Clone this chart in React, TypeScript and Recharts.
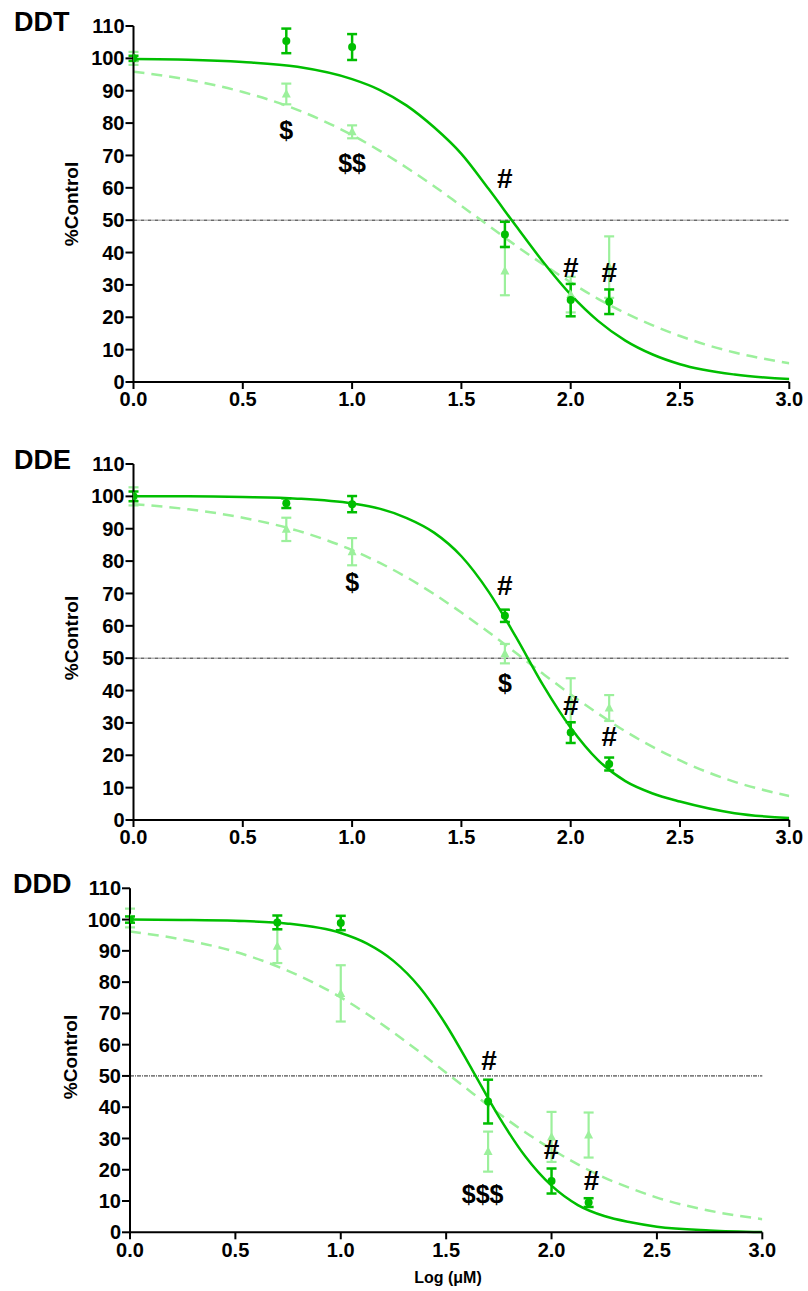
import React from "react";
import { ComposedChart, Line, Scatter, ErrorBar, XAxis, YAxis, ReferenceLine } from "recharts";

// x = log(µM) dose, shared by the measured points
const doses = [0, 0.699, 1, 1.699, 2, 2.176];
// x grid for the fitted curves
const curveX = [0, 0.25, 0.5, 0.75, 1, 1.125, 1.25, 1.375, 1.5, 1.625, 1.75, 1.875, 2, 2.125, 2.25, 2.375, 2.5, 2.75, 3];

const xTicks = [0, 0.5, 1, 1.5, 2, 2.5, 3];
const yTicks = [0, 10, 20, 30, 40, 50, 60, 70, 80, 90, 100, 110];

// DDT
const ddtDarkMean = [100, 105.4, 103.5, 45.6, 25.3, 24.8];
const ddtDarkErr = [0.8, 3.8, 4, 3.9, 5, 3.8];
const ddtLightMean = [100, 89, 77.3, 34.3, 27, 35.5];
const ddtLightErr = [2, 3.2, 2, 7.5, 5.5, 9.5];
const ddtDarkFit = [99.8, 99.6, 98.9, 97.4, 93.6, 90.3, 85.4, 78.7, 70.5, 59.6, 48.2, 37, 27, 18.9, 12.8, 8.5, 5.5, 2.3, 0.9];
const ddtLightFit = [95.9, 93.4, 89.6, 84.1, 76.3, 71.5, 66.2, 60.5, 54.4, 48.3, 42.1, 36.3, 30.8, 25.7, 21.3, 17.5, 14.2, 9.1, 5.8];

// DDE
const ddeDarkMean = [100, 97.9, 97.6, 63.1, 27, 17.3];
const ddeDarkErr = [1.5, 1.5, 2.5, 1.9, 3.2, 2];
const ddeLightMean = [100, 89.8, 82.9, 51.4, 37, 34.6];
const ddeLightErr = [2.8, 3.6, 4.2, 3, 6.8, 4];
const ddeDarkFit = [100, 100, 99.8, 99.3, 97.8, 96.2, 93.3, 88.8, 81.5, 70.5, 56.5, 41.5, 28.5, 18.5, 12, 8.2, 5.7, 2.1, 0.6];
const ddeLightFit = [97.6, 96, 93.4, 89.4, 83.4, 79.5, 75, 69.8, 64.1, 58, 51.6, 45.1, 38.8, 32.9, 27.4, 22.6, 18.4, 11.8, 7.4];

// DDD
const dddDarkMean = [100, 99.1, 98.9, 41.8, 16.4, 9.5];
const dddDarkErr = [1, 2.2, 2.3, 7, 4, 1.4];
const dddLightMean = [100.5, 91.5, 76.4, 25.8, 30.5, 31.1];
const dddLightErr = [3, 5.4, 9, 6.4, 8, 7.2];
const dddDarkFit = [100, 99.9, 99.6, 98.7, 95.7, 92.3, 86.8, 78.3, 66.3, 51.8, 37, 24.3, 14.9, 8.7, 5.2, 3.2, 1.8, 0.6, 0.1];
const dddLightFit = [96.2, 93.6, 89.7, 83.6, 75.1, 69.8, 63.9, 57.6, 51, 44.5, 38, 32, 26.6, 21.7, 17.5, 14.1, 11.1, 6.9, 4.2];

// significance marks: [x, y, text]
const ddtMarks: [number, number, string][] = [
  [0.699, 77.9, "$"], [1, 67.6, "$$"], [1.699, 63, "#"], [2, 35.6, "#"], [2.176, 34.1, "#"],
];
const ddeMarks: [number, number, string][] = [
  [1, 73.6, "$"], [1.699, 72.6, "#"], [1.699, 42.4, "$"], [2, 35.5, "#"], [2.176, 25.9, "#"],
];
const dddMarks: [number, number, string][] = [
  [1.704, 55.1, "#"], [1.673, 12.2, "$$$"], [2, 26.5, "#"], [2.19, 16.7, "#"],
];

const DARK = "#00BE00";
const LIGHT = "#9CF09C";
const FONT = "Arial, 'Liberation Sans', sans-serif";

const pts = (m: number[], e: number[]) => doses.map((x, i) => ({ x, y: m[i], err: e[i] }));
const fit = (v: number[]) => curveX.map((x, i) => ({ x, y: v[i] }));

const Dot = (p: any) => <circle cx={p.cx} cy={p.cy} r={4} fill={DARK} />;
const Tri = (p: any) => (
  <path d={`M${p.cx},${p.cy - 5} L${p.cx + 4.5},${p.cy + 3.5} L${p.cx - 4.5},${p.cy + 3.5} Z`} fill={LIGHT} />
);
const MarkText = (p: any) => {
  const hash = p.payload.t === "#";
  return (
    <text x={p.cx} y={p.cy} dy={hash ? 10 : 9} textAnchor="middle" fontFamily={FONT} fontWeight="bold"
      fontSize={hash ? 28 : 25} fill="#000">
      {p.payload.t}
    </text>
  );
};

interface PanelProps {
  top: number;
  height: number;
  margin: { top: number; right: number; bottom: number; left: number };
  darkM: number[]; darkE: number[]; lightM: number[]; lightE: number[];
  darkFit: number[]; lightFit: number[];
  marks: [number, number, string][];
}

function Panel(p: PanelProps) {
  const tick = { fontFamily: FONT, fontWeight: "bold", fontSize: 20, fill: "#000" };
  return (
    <div style={{ position: "absolute", left: 0, top: p.top }}>
      <ComposedChart width={808} height={p.height} margin={p.margin}>
        <XAxis type="number" dataKey="x" domain={[0, 3]} ticks={xTicks} tickFormatter={(v) => v.toFixed(1)}
          tick={tick} tickSize={7} tickMargin={3} height={30} stroke="#000" strokeWidth={2} allowDataOverflow />
        <YAxis type="number" domain={[0, 110]} ticks={yTicks} tick={tick} tickSize={8} tickMargin={1}
          width={60} stroke="#000" strokeWidth={2} interval={0} />
        <ReferenceLine y={50} stroke="#222" strokeWidth={1} strokeDasharray="4 1 1 1" />
        <Line data={fit(p.lightFit)} dataKey="y" type="monotone" stroke={LIGHT} strokeWidth={2.5}
          strokeDasharray="11 7" dot={false} activeDot={false} isAnimationActive={false} />
        <Line data={fit(p.darkFit)} dataKey="y" type="monotone" stroke={DARK} strokeWidth={2.5}
          dot={false} activeDot={false} isAnimationActive={false} />
        <Scatter data={pts(p.lightM, p.lightE)} dataKey="y" shape={Tri} isAnimationActive={false}>
          <ErrorBar dataKey="err" direction="y" width={5} stroke={LIGHT} strokeWidth={2.2} />
        </Scatter>
        <Scatter data={pts(p.darkM, p.darkE)} dataKey="y" shape={Dot} isAnimationActive={false}>
          <ErrorBar dataKey="err" direction="y" width={5} stroke={DARK} strokeWidth={2.5} />
        </Scatter>
        <Scatter data={p.marks.map(([x, y, t]) => ({ x, y, t }))} dataKey="y" shape={MarkText} isAnimationActive={false} />
      </ComposedChart>
    </div>
  );
}

export default function App() {
  const title = { fontFamily: FONT, fontWeight: "bold", fontSize: 27, fill: "#000" } as const;
  const ylab = { fontFamily: FONT, fontWeight: "bold", fontSize: 19, fill: "#000", textAnchor: "middle" } as const;
  return (
    <div style={{ position: "absolute", left: 0, top: 0, width: 808, height: 1291, background: "#fff" }}>
      <Panel top={0} height={430} margin={{ top: 26, right: 18.7, bottom: 18, left: 73.5 }}
        darkM={ddtDarkMean} darkE={ddtDarkErr} lightM={ddtLightMean} lightE={ddtLightErr}
        darkFit={ddtDarkFit} lightFit={ddtLightFit} marks={ddtMarks} />
      <Panel top={440} height={430} margin={{ top: 24, right: 18.7, bottom: 20, left: 73.5 }}
        darkM={ddeDarkMean} darkE={ddeDarkErr} lightM={ddeLightMean} lightE={ddeLightErr}
        darkFit={ddeDarkFit} lightFit={ddeLightFit} marks={ddeMarks} />
      <Panel top={870} height={421} margin={{ top: 18.3, right: 45.7, bottom: 28.7, left: 70 }}
        darkM={dddDarkMean} darkE={dddDarkErr} lightM={dddLightMean} lightE={dddLightErr}
        darkFit={dddDarkFit} lightFit={dddLightFit} marks={dddMarks} />
      <svg width={808} height={1291} style={{ position: "absolute", left: 0, top: 0, pointerEvents: "none" }}>
        <text x={14} y={31} {...title}>DDT</text>
        <text x={14} y={469} {...title}>DDE</text>
        <text x={13} y={893} {...title}>DDD</text>
        <text transform="translate(78,204) rotate(-90)" {...ylab}>%Control</text>
        <text transform="translate(78,638) rotate(-90)" {...ylab}>%Control</text>
        <text transform="translate(77,1057) rotate(-90)" {...ylab}>%Control</text>
        <text x={448} y={1283} fontFamily={FONT} fontWeight="bold" fontSize={16} textAnchor="middle">Log (μM)</text>
      </svg>
    </div>
  );
}
